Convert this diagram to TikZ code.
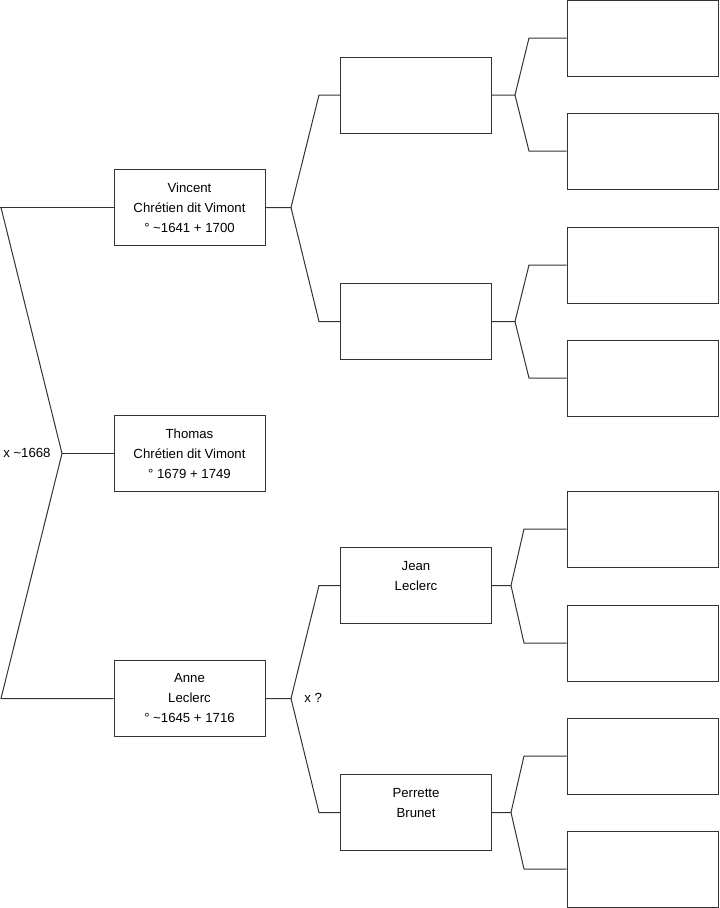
\documentclass[tikz,border=0pt]{standalone}
\usepackage{fontspec}
\setmainfont{Liberation Sans}
\usepackage{xcolor}
\usepackage{tikz}
\usetikzlibrary{positioning}

\colorlet{linecol}{black!80}
\tikzset{
    person/.style={draw=linecol, line width=0.75pt, minimum width=113.25pt, minimum height=57pt,
        inner sep=0pt, align=center, font=\fontsize{9.9}{15}\selectfont},
    link/.style={draw=linecol, line width=0.75pt},
    mariage/.style={font=\fontsize{9.9}{11}\selectfont, inner sep=0pt}
}

\begin{document}
\begin{tikzpicture}[x=0.75pt, y=-0.75pt]
    \useasboundingbox (0,0) rectangle (719,908);

    % generation 1
    \node[person] (vincent) at (189.5,207.5) {Vincent\\Chrétien dit Vimont\\° \textasciitilde1641 + 1700};
    \node[person] (thomas) at (189.5,453.5) {Thomas\\Chrétien dit Vimont\\° 1679 + 1749};
    \node[person] (anne) at (189.5,698.5) {Anne\\Leclerc\\° \textasciitilde1645 + 1716};

    % generation 2
    \node[person] (pv1) at (416,95) {};
    \node[person] (pv2) at (416,321.5) {};
    \node[person] (jean) at (416,585.5) {Jean\\Leclerc\\\mbox{}};
    \node[person] (perrette) at (416,812.5) {Perrette\\Brunet\\\mbox{}};

    % generation 3
    \node[person] (g1) at (642.5,38) {};
    \node[person] (g2) at (642.5,151) {};
    \node[person] (g3) at (642.5,265) {};
    \node[person] (g4) at (642.5,378) {};
    \node[person] (g5) at (642.5,529) {};
    \node[person] (g6) at (642.5,643) {};
    \node[person] (g7) at (642.5,756) {};
    \node[person] (g8) at (642.5,869) {};

    % couple of the left
    \coordinate (mTop) at (1,207.5);
    \coordinate (mMid) at (62,453.5);
    \coordinate (mBot) at (1,698.5);
    \draw[link] (vincent) -- (0,207.5);
    \draw[link] (mTop) -- (mMid) -- (mBot) -- (anne);
    \draw[link] (mMid) -- (thomas);
    \node[mariage, anchor=west] (m1) at (3,452.5) {x \textasciitilde1668};

    % parents of Vincent
    \coordinate (jv) at (291,207.5);
    \draw[link] (vincent) -- (jv) -- (319,95) -- (pv1);
    \draw[link] (jv) -- (319,321.5) -- (pv2);

    % parents of Anne
    \coordinate (ja) at (291,698.5);
    \draw[link] (anne) -- (ja) -- (319,585.5) -- (jean);
    \draw[link] (ja) -- (319,812.5) -- (perrette);
    \node[mariage, anchor=west] (m2) at (304,697.5) {x ?};

    % generation 3 links
    \coordinate (j1) at (515,95);
    \draw[link] (pv1) -- (j1) -- (529,38) -- (g1);
    \draw[link] (j1) -- (529,151) -- (g2);
    \coordinate (j2) at (515,321.5);
    \draw[link] (pv2) -- (j2) -- (529,265) -- (g3);
    \draw[link] (j2) -- (529,378) -- (g4);
    \coordinate (j3) at (511,585.5);
    \draw[link] (jean) -- (j3) -- (524,529) -- (g5);
    \draw[link] (j3) -- (524,643) -- (g6);
    \coordinate (j4) at (511,812.5);
    \draw[link] (perrette) -- (j4) -- (524,756) -- (g7);
    \draw[link] (j4) -- (524,869) -- (g8);
\end{tikzpicture}
\end{document}
